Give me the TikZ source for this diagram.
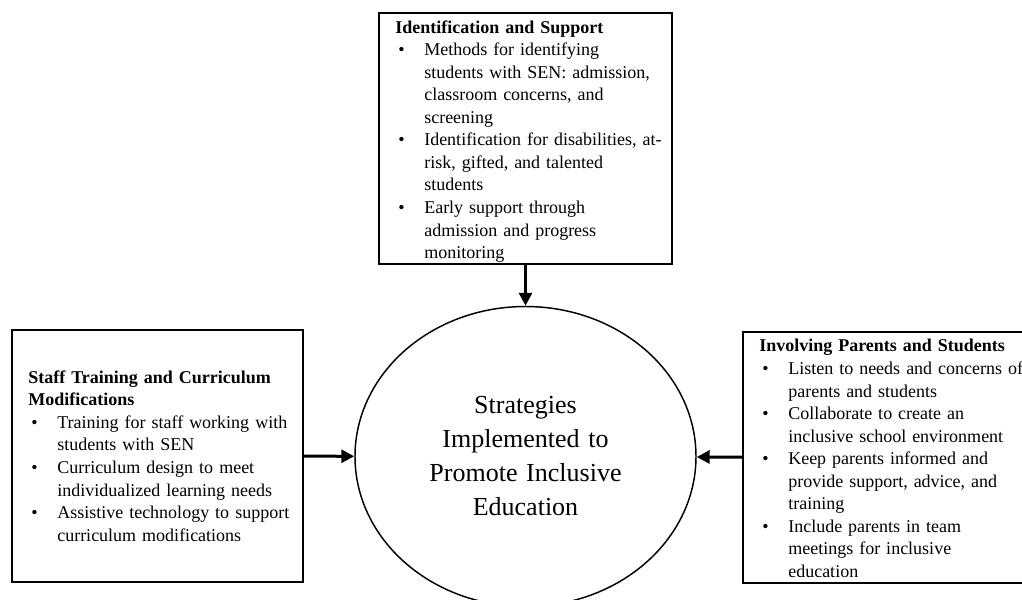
\documentclass[tikz,border=0pt]{standalone}
\usepackage{fontspec}
\setmainfont{Liberation Serif}
\usepackage{tikz}
\usetikzlibrary{shapes.geometric,arrows.meta,positioning}
\tikzset{framebox/.style={draw,line width=1.5pt,inner sep=0pt},
    listtext/.style={anchor=west,inner sep=0pt,text width=202.5pt,align=left,
        font=\fontsize{13.5pt}{16.9pt}\selectfont},
    pointer/.style={line width=2.25pt,-{Triangle[length=9.75pt,width=9.75pt]}}}
\newcommand{\bul}{\par\noindent\hangindent=21.75pt\hangafter=1%
    \makebox[21.75pt][l]{\hspace{2.25pt}\textbullet}\ignorespaces}

\begin{document}
\begin{tikzpicture}[x=0.75pt,y=0.75pt,yscale=-1,xscale=1]
%set diagram left start at 0, and has height of 600
\useasboundingbox (0,0) rectangle (1022,600);

%Shape: Ellipse [id:strat]
\node [ellipse, draw, line width=1.1pt, minimum width=255.75pt, minimum height=225pt, inner sep=0pt,
    text width=150pt, align=center, font=\fontsize{19.5pt}{25.5pt}\selectfont] (strat) at (525.5,456.5)
    {Strategies\\ Implemented to\\ Promote Inclusive\\ Education};

%Shape: Rectangle [id:ident]
\node [framebox, minimum width=219.75pt, minimum height=188.25pt] (ident) at (525.5,138.5) {};
% Text Node
\node [listtext] (identtext) at ([xshift=12.75pt,yshift=2.25pt]ident.west)
    {\noindent\textbf{Identification and Support}
    \bul Methods for identifying\newline students with SEN: admission,\newline classroom concerns, and\newline screening
    \bul Identification for disabilities, at-\newline risk, gifted, and  talented\newline students
    \bul Early support through\newline admission and progress\newline monitoring\par};

%Shape: Rectangle [id:staff]
\node [framebox, minimum width=218.25pt, minimum height=189pt] (staff) at (157.5,456) {};
% Text Node
\node [listtext] (stafftext) at ([xshift=12.75pt]staff.west)
    {\noindent\textbf{Staff Training and Curriculum\newline Modifications}
    \bul Training for staff working with\newline students with SEN
    \bul Curriculum design to meet\newline individualized learning needs
    \bul Assistive technology to support\newline curriculum modifications\par};

%Shape: Rectangle [id:parents]
\node [framebox, minimum width=212.25pt, minimum height=188.25pt] (parents) at (884.5,457.5) {};
% Text Node
\node [listtext] (parentstext) at ([xshift=12.75pt,yshift=0.75pt]parents.west)
    {\noindent\textbf{Involving Parents and Students}
    \bul Listen to needs and concerns of\newline parents and students
    \bul Collaborate to create an\newline inclusive school environment
    \bul Keep parents informed and\newline provide support, advice, and\newline training
    \bul Include parents in team\newline meetings for inclusive\newline education\par};

%Straight Lines
\draw [pointer] (ident) -- (strat);
\draw [pointer] (staff) -- (strat);
\draw [pointer] (parents) -- (strat);

\end{tikzpicture}
\end{document}
